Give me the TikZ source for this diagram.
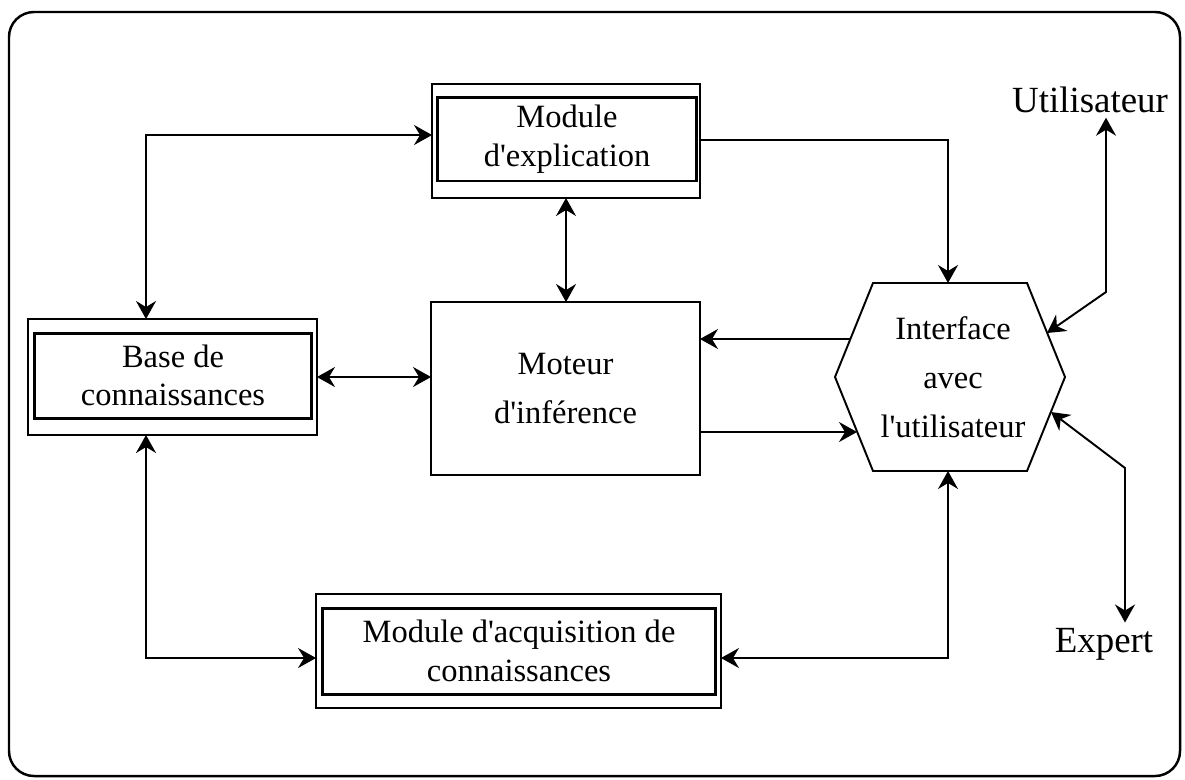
\documentclass[tikz,border=0pt]{standalone}
\usepackage{fontspec}
\setmainfont{Liberation Serif}
\usetikzlibrary{arrows.meta}
\newcommand{\apos}{\textquotesingle}
\begin{document}
\begin{tikzpicture}[x=0.02cm,y=-0.02cm,
  conn/.style={line width=1.1pt},
  >={Stealth[length=0.36cm,width=0.4cm,inset=0.12cm]},
  outerbox/.style={draw,line width=0.8pt,inner sep=0pt,outer sep=0pt},
  innerbox/.style={draw,line width=1.7pt,inner sep=0pt,outer sep=0pt,align=center,
    font=\fontsize{18.5}{22}\selectfont},
  plainbox/.style={draw,line width=1.1pt,inner sep=0pt,outer sep=0pt,align=center,
    font=\fontsize{18.5}{28}\selectfont},
  actor/.style={inner sep=0.1cm,font=\fontsize{21}{25}\selectfont}]

% page and frame
\useasboundingbox (0,0) rectangle (1185,779);
\draw[line width=1.4pt,rounded corners=0.5cm] (9,12) rectangle (1180,776);

% module d'explication
\node[outerbox,minimum width=5.36cm,minimum height=2.28cm] (expl) at (566,141) {};
\node[innerbox,minimum width=5.2cm,minimum height=1.68cm] (explin) at (567,139) {Module\\d\apos explication};

% base de connaissances
\node[outerbox,minimum width=5.78cm,minimum height=2.32cm] (base) at (172.5,377) {};
\node[innerbox,minimum width=5.56cm,minimum height=1.7cm] (basein) at (173,375.5) {Base de\\connaissances};

% module d'acquisition
\node[outerbox,minimum width=8.1cm,minimum height=2.28cm] (acq) at (518.5,651) {};
\node[innerbox,minimum width=7.88cm,minimum height=1.72cm] (acqin) at (519,651) {Module d\apos acquisition de\\connaissances};

% moteur d'inference
\node[plainbox,minimum width=5.38cm,minimum height=3.46cm] (mot) at (565.5,388.5) {Moteur\\d\apos inférence};

% interface (hexagon)
\coordinate (h1) at (873,283);
\coordinate (h2) at (1027,283);
\coordinate (h3) at (1065,377);
\coordinate (h4) at (1027,471);
\coordinate (h5) at (873,471);
\coordinate (h6) at (835,377);
\draw[line width=1.1pt] (h1) -- (h2) -- (h3) -- (h4) -- (h5) -- (h6) -- cycle;
\node[align=center,font=\fontsize{18.5}{28}\selectfont] (iface) at (953,377) {Interface\\avec\\l\apos utilisateur};
\coordinate (htop) at (948,283);
\coordinate (hbot) at (948,471);
\coordinate (hl1) at (850.5,339);
\coordinate (hl2) at (857,432);
\coordinate (hr1) at (1047,333);
\coordinate (hr2) at (1051,412);

% actors
\node[actor,anchor=base] (user) at (1090,112) {Utilisateur};
\node[actor,anchor=base] (expert) at (1104,652) {Expert};

% routing corners
\coordinate (c1) at (146,135);
\coordinate (c2) at (948,140);
\coordinate (c3) at (146,658);
\coordinate (u1) at (1106,292);
\coordinate (e1) at (1125,468);

% connectors
\draw[conn,<->] (c1 |- base.north) |- (expl.west |- c1);
\draw[conn,->] (expl.east |- c2) -| (htop);
\draw[conn,<->] (expl.south) -- (expl.south |- mot.north);
\draw[conn,<->] (base.east) -- (base.east -| mot.west);
\draw[conn,->] (hl1) -- (hl1 -| mot.east);
\draw[conn,->] (mot.east |- hl2) -- (hl2);
\draw[conn,<->] (c1 |- base.south) |- (acq.west |- c3);
\draw[conn,<->] (hbot) |- (acq.east |- c3);
\draw[conn,<->] (hr1) -- (u1) -- (u1 |- user.south);
\draw[conn,<->] (hr2) -- (e1) -- (e1 |- expert.north);
\end{tikzpicture}
\end{document}
